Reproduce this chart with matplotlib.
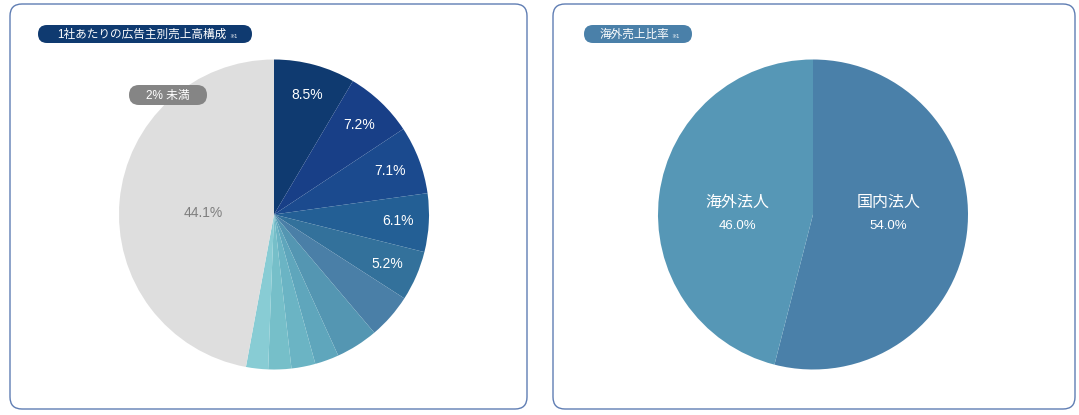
import matplotlib
matplotlib.use('Agg')
import numpy as np
import matplotlib.pyplot as plt
from matplotlib.patches import FancyBboxPatch

plt.rcParams['font.family'] = ['Liberation Sans', 'Noto Sans CJK JP', 'DejaVu Sans']

# left pie: share per advertiser (clockwise from top), last one = under 2% group
adv_shares = [8.5, 7.2, 7.1, 6.1, 5.2, 4.7, 4.4, 2.5, 2.5, 2.4, 2.3]
adv_labels = ['8.5%', '7.2%', '7.1%', '6.1%', '5.2%', '', '', '', '', '', '']
other_label = '44.1%'
adv_colors = ['#0f3a70', '#183f87', '#1b4a8e', '#235f95', '#33719b', '#4a7fa7',
              '#5496b2', '#5fa6bc', '#6bb4c4', '#76bfc9', '#88ccd4']
other_color = '#dedede'

# right pie: overseas sales ratio
region_names = ['国内法人', '海外法人']
region_shares = [54.0, 46.0]
region_colors = ['#4a80a9', '#5697b6']

W, H = 1079, 415
fig = plt.figure(figsize=(W / 100, H / 100), dpi=100)


def pie_axes(cx, cy, r):
	ax = fig.add_axes([(cx - r) / W, (H - cy - r) / H, 2 * r / W, 2 * r / H])
	ax.axis('off')
	return ax


def fix_limits(ax):
	ax.set_xlim(-1, 1)
	ax.set_ylim(-1, 1)
	ax.set_aspect('equal')


def polar(theta1, theta2, r):
	a = np.radians((theta1 + theta2) / 2)
	return r * np.cos(a), r * np.sin(a)


# Left pie
ax1 = pie_axes(274, 214.5, 155)
vals = adv_shares + [100 - sum(adv_shares)]
wedges, _ = ax1.pie(vals, colors=adv_colors + [other_color], startangle=90,
					counterclock=False, radius=1,
					wedgeprops=dict(linewidth=0))
fix_limits(ax1)
for w, lab in zip(wedges[:-1], adv_labels):
	if lab:
		x, y = polar(w.theta1, w.theta2, 0.8)
		ax1.text(x, y, lab, color='white', fontsize=10, ha='center', va='center')
x, y = polar(wedges[-1].theta1, wedges[-1].theta2, 0.46)
ax1.text(x, y - 0.032, other_label, color='#7f7f7f', fontsize=10, ha='center', va='center')

# Right pie
ax2 = pie_axes(813, 214.5, 155)
wedges2, _ = ax2.pie(region_shares, colors=region_colors, startangle=90,
					 counterclock=False, radius=1,
					 wedgeprops=dict(linewidth=0))
fix_limits(ax2)
for w, name, v in zip(wedges2, region_names, region_shares):
	x, _ = polar(w.theta1, w.theta2, 0.49)
	ax2.text(x, 0.08, name, color='white', fontsize=11.5, ha='center', va='center')
	ax2.text(x, -0.075, '%.1f%%' % v, color='white', fontsize=9.5, ha='center', va='center')

# Overlay: panels, title badges
ov = fig.add_axes([0, 0, 1, 1])
ov.set_xlim(0, W)
ov.set_ylim(H, 0)
ov.axis('off')
ov.patch.set_alpha(0)

for x0, x1 in [(10, 527), (553, 1075)]:
	ov.add_patch(FancyBboxPatch((x0 + 12, 4 + 12), x1 - x0 - 24, 405 - 24,
								boxstyle='round,pad=12', fc='none', ec='#5f7db3', lw=1))


def badge(x0, x1, yc, h, color):
	p = h / 2 - 0.01
	ov.add_patch(FancyBboxPatch((x0 + p, yc - 0.01), x1 - x0 - 2 * p, 0.02,
								boxstyle='round,pad=%f' % p, fc=color, ec='none'))


badge(38, 252, 34, 18, '#0f3a70')
ov.text(57, 34.5, '1社あたりの広告主別売上高構成', color='white', fontsize=8.4, ha='left', va='center')
ov.text(229, 37, '※1', color='white', fontsize=3.8, ha='left', va='center')

badge(584, 692, 34, 18, '#4a80a9')
ov.text(600, 34.5, '海外売上比率', color='white', fontsize=8.4, ha='left', va='center')
ov.text(671, 37, '※1', color='white', fontsize=3.8, ha='left', va='center')

badge(129, 207, 95, 20, '#858585')
ov.text(168, 95.5, '2% 未満', color='white', fontsize=8.5, ha='center', va='center')

fig.savefig('out.png', dpi=100)
